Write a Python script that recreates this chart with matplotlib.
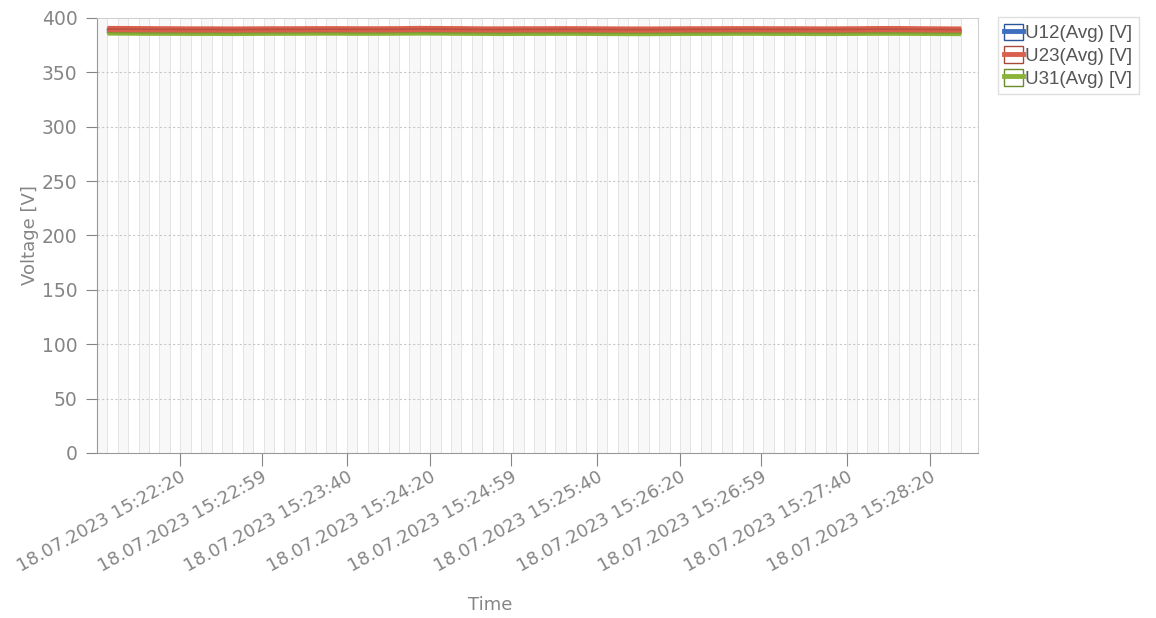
import numpy as np
import pandas as pd
import matplotlib
matplotlib.use("Agg")
import matplotlib.pyplot as plt
import matplotlib.dates as mdates
from matplotlib.patches import Patch
from matplotlib.lines import Line2D
from matplotlib.legend_handler import HandlerTuple

# samples every 10 s
times = pd.date_range("2023-07-18 15:21:45", periods=42, freq="10s")

u12 = [388.4, 388.3, 388.3, 388.2, 388.1, 388.1, 388.0, 388.1, 388.2, 388.2,
       388.3, 388.3, 388.2, 388.2, 388.3, 388.4, 388.3, 388.2, 388.1, 388.1,
       388.2, 388.2, 388.3, 388.2, 388.1, 388.0, 388.0, 388.1, 388.2, 388.2,
       388.3, 388.3, 388.2, 388.2, 388.1, 388.1, 388.2, 388.3, 388.3, 388.2,
       388.1, 388.0]
u23 = [389.8, 389.7, 389.6, 389.5, 389.4, 389.4, 389.3, 389.4, 389.5, 389.5,
       389.6, 389.6, 389.5, 389.5, 389.6, 389.8, 389.7, 389.6, 389.4, 389.4,
       389.5, 389.5, 389.6, 389.5, 389.4, 389.3, 389.3, 389.4, 389.5, 389.5,
       389.6, 389.6, 389.5, 389.5, 389.4, 389.4, 389.5, 389.7, 389.7, 389.5,
       389.4, 389.3]
u31 = [386.6, 386.5, 386.4, 386.4, 386.3, 386.3, 386.2, 386.3, 386.4, 386.4,
       386.5, 386.5, 386.4, 386.4, 386.5, 386.6, 386.5, 386.4, 386.3, 386.2,
       386.3, 386.3, 386.4, 386.3, 386.2, 386.1, 386.1, 386.2, 386.3, 386.3,
       386.4, 386.4, 386.3, 386.3, 386.2, 386.2, 386.3, 386.4, 386.4, 386.3,
       386.2, 386.1]

series_names = ["U12(Avg) [V]", "U23(Avg) [V]", "U31(Avg) [V]"]
colors = ["#3f6fbf", "#d9604c", "#8ab33a"]
dark = ["#2c5597", "#a8483a", "#6a8c25"]

tick_times = pd.to_datetime(["2023-07-18 15:22:20", "2023-07-18 15:22:59",
                             "2023-07-18 15:23:40", "2023-07-18 15:24:20",
                             "2023-07-18 15:24:59", "2023-07-18 15:25:40",
                             "2023-07-18 15:26:20", "2023-07-18 15:26:59",
                             "2023-07-18 15:27:40", "2023-07-18 15:28:20"])

gray = "#858585"
fig = plt.figure(figsize=(11.56, 6.18), dpi=100)
ax = fig.add_axes([0.0839, 0.267, 0.762, 0.704])

x0 = pd.Timestamp("2023-07-18 15:21:40")
x1 = pd.Timestamp("2023-07-18 15:28:43")
ax.set_xlim(x0, x1)
ax.set_ylim(0, 400)

# faint banded vertical grid
band_edges = pd.date_range(x0, x1, freq="5s")
for i in range(len(band_edges) - 1):
    if i % 2 == 0:
        ax.axvspan(band_edges[i], band_edges[i + 1], color="#f8f8f8", lw=0, zorder=0)
    ax.axvline(band_edges[i], color="#e4e4e4", lw=0.7, zorder=0.5)
for yv in range(50, 400, 50):
    ax.axhline(yv, color="#c8c8c8", lw=0.8, ls=(0, (2, 2)), zorder=0.6)

for vals, c, d, z in zip([u12, u23, u31], colors, dark, [3, 4, 3.5]):
    ax.plot(times, vals, color=c, lw=4.5, zorder=z, solid_capstyle="butt")
    ax.plot(times, vals, color=d, lw=1.2, zorder=z + 0.05, alpha=0.6)

ax.set_xticks(tick_times)
ax.xaxis.set_major_formatter(mdates.DateFormatter("%d.%m.%Y %H:%M:%S"))
ax.set_yticks(range(0, 401, 50))
for lab in ax.get_xticklabels():
    lab.set_rotation(29)
    lab.set_ha("right")
    lab.set_rotation_mode("anchor")
ax.tick_params(axis="x", colors=gray, labelsize=13, length=9, pad=2)
ax.tick_params(axis="y", colors=gray, labelsize=13.5, length=8, pad=6)

for s in ["left", "bottom"]:
    ax.spines[s].set_color("#999999")
for s in ["top", "right"]:
    ax.spines[s].set_color("#d0d0d0")

ax.set_ylabel("Voltage [V]", color=gray, fontsize=13, labelpad=2)
fig.text(0.424, 0.013, "Time", color=gray, fontsize=13, ha="center")

handles = []
for c, d in zip(colors, dark):
    handles.append((Patch(facecolor="white", edgecolor=d, lw=1.0),
                    Line2D([], [], color=c, lw=3.5)))
leg = ax.legend(handles, series_names, handler_map={tuple: HandlerTuple(ndivide=1, pad=0)},
                loc="upper left", bbox_to_anchor=(1.0227, 1.002), borderaxespad=0,
                frameon=True, handlelength=1.0, handleheight=1.0, handletextpad=0.1,
                labelspacing=0.2, borderpad=0.35, fancybox=False,
                prop={"family": "Liberation Sans", "size": 13.5})
leg.get_frame().set_edgecolor("#d8d8d8")
for t in leg.get_texts():
    t.set_color("#555555")

fig.savefig("out.png", dpi=100, facecolor="white")
